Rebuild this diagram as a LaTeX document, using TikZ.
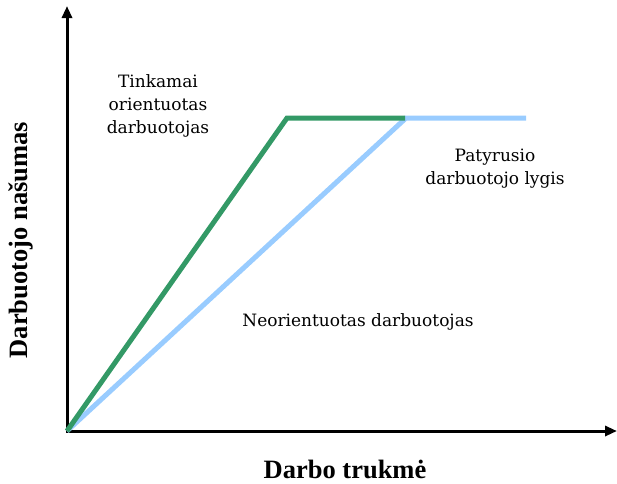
\documentclass[tikz,border=0pt]{standalone}
\usepackage{fontspec}
\setmainfont{Liberation Serif}
\newfontfamily\labelfont{DejaVu Serif}
\usetikzlibrary{arrows.meta}
\definecolor{trained}{HTML}{339966}
\definecolor{untrained}{HTML}{99CCFF}
\tikzset{
  axis/.style={line width=3pt, -{Triangle[length=12pt,width=10pt]}},
  curve/.style={line width=5pt, line join=miter},
  note/.style={font=\labelfont\fontsize{17}{23}\selectfont, align=center, inner sep=0pt},
  axlabel/.style={font=\bfseries\fontsize{26.5}{30}\selectfont, inner sep=0pt}
}
\begin{document}
\begin{tikzpicture}[x=1pt,y=-1pt]
  \useasboundingbox (0,0) rectangle (617,483);
  % axes
  \coordinate (O) at (67,431);
  \coordinate (ytip) at (67,6);
  \coordinate (xtip) at (617,431);
  \draw[axis] (O) ++(0,1.5) -- (ytip);
  \draw[axis] (O) ++(-1.5,0) -- (xtip);
  % learning curves
  \coordinate (B1) at (406,118);
  \coordinate (B2) at (526,118);
  \coordinate (G1) at (287,118);
  \coordinate (G2) at (405,118);
  \draw[curve, untrained] (O) -- (B1) -- (B2);
  \draw[curve, trained] (O) -- (G1) -- (G2);
  % labels
  \node[note] (tink) at (158,106) {Tinkamai\\orientuotas\\darbuotojas};
  \node[note] (pat) at (495,169) {Patyrusio\\darbuotojo lygis};
  \node[note] (neor) at (358,322) {Neorientuotas darbuotojas};
  \node[axlabel, anchor=base] (xl) at (345,478) {Darbo trukmė};
  \node[axlabel, rotate=90] (yl) at (21,240) {Darbuotojo našumas};
\end{tikzpicture}
\end{document}
